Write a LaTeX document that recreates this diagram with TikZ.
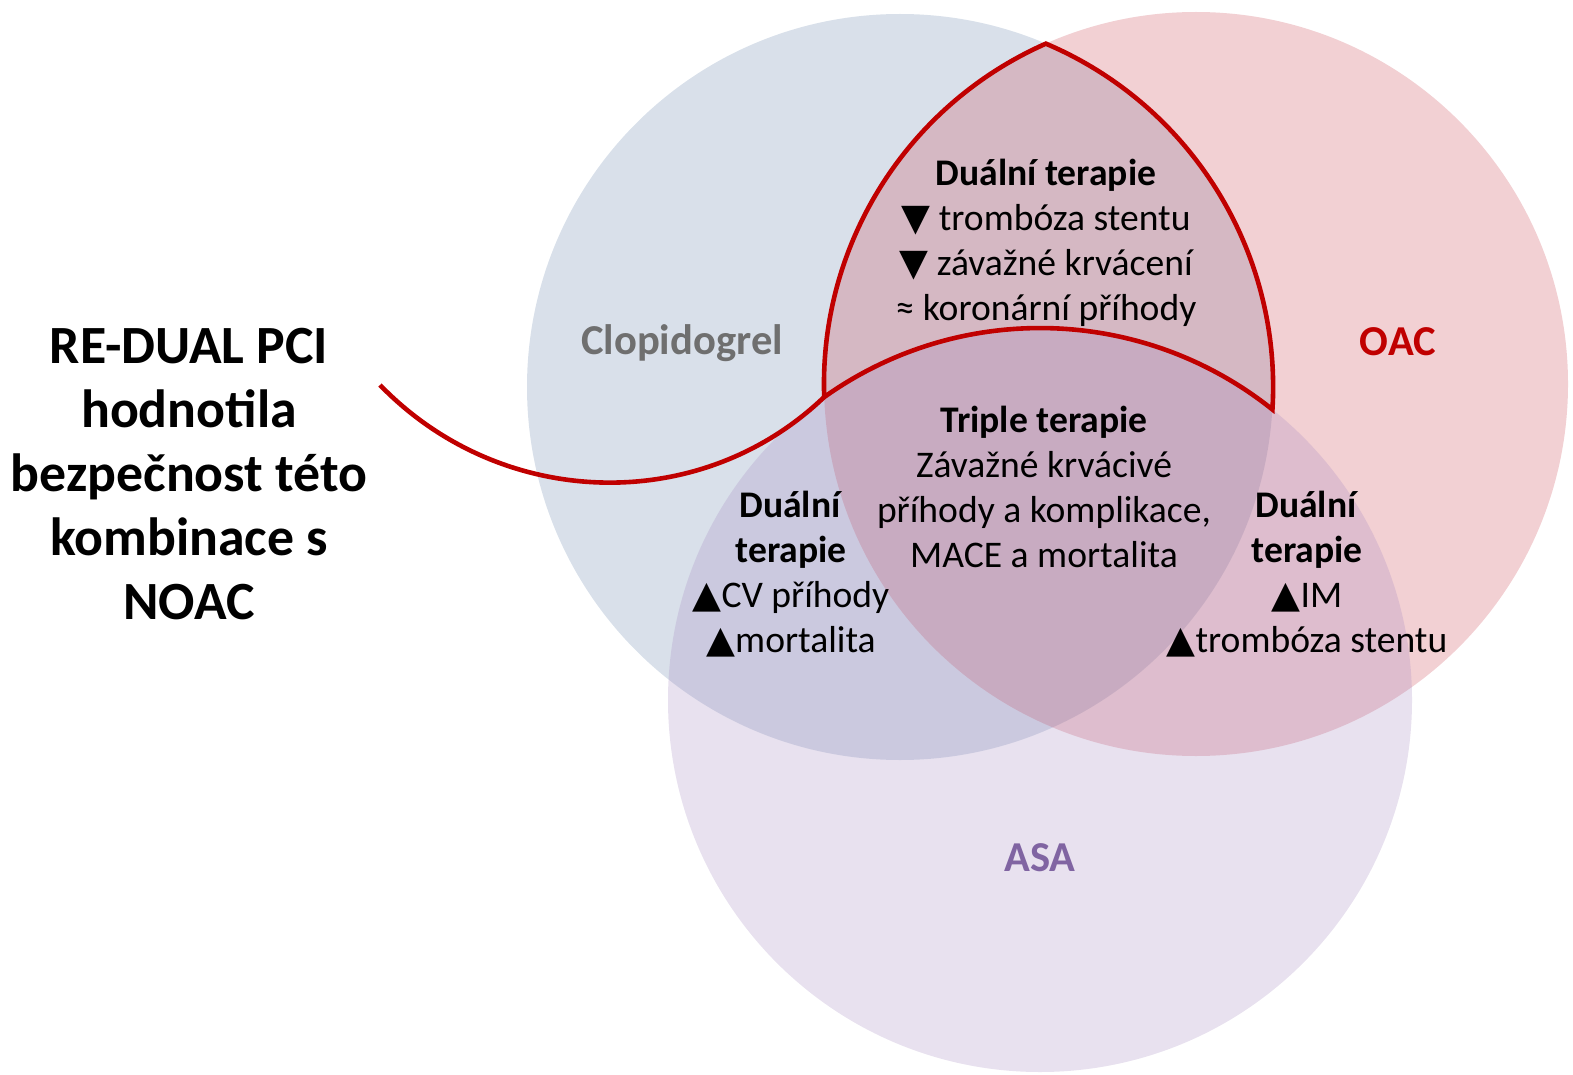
\documentclass[tikz,border=0pt]{standalone}
\usepackage{fontspec}
\setmainfont{Carlito}
\newfontfamily\symbolfont{DejaVu Sans}
\usepackage{xcolor}
\usepackage{tikz}
\usetikzlibrary{positioning}
\definecolor{clopiBlue}{RGB}{103,131,171}
\definecolor{oacRed}{RGB}{203,67,79}
\definecolor{asaViolet}{RGB}{163,135,191}
\definecolor{outlineRed}{HTML}{C00000}
\definecolor{labelGrey}{HTML}{6F6F6F}
\definecolor{labelViolet}{HTML}{8064A2}
\newcommand{\incr}{{\symbolfont\char"25B2}}
\newcommand{\decr}{{\symbolfont\char"25BC}}

\begin{document}
\begin{tikzpicture}[x=0.5pt, y=-0.5pt,
    setcircle/.style={fill opacity=0.25},
    setlabel/.style={font=\fontsize{21.3}{25}\selectfont\bfseries},
    infotext/.style={align=center, font=\fontsize{18.8}{22.4}\selectfont},
    redline/.style={draw=outlineRed, line width=2.3pt}]
                \useasboundingbox (0,0) rectangle (1573,1075);
                % the three sets
                \fill[setcircle, clopiBlue] (900,387) circle[radius=373];
                \fill[setcircle, oacRed] (1196,384) circle[radius=372];
                \fill[setcircle, asaViolet] (1040,700) circle[radius=372];
                \node[setlabel, text=labelGrey] (clopi) at (682,343) {Clopidogrel};
                \node[setlabel, text=outlineRed] (oac) at (1398,342) {OAC};
                \node[setlabel, text=labelViolet] (asa) at (1040,858) {ASA};
                % clopidogrel + OAC without ASA
                \coordinate (corner) at (824.2,397);
                \draw[redline] (corner) arc[start angle=178.0, end angle=246.2, radius=372]
                    arc[start angle=293.0, end angle=363.46, radius=373]
                    arc[start angle=308.65, end angle=234.54, radius=372] -- cycle;
                \node[infotext] (dualtop) at (1046,243) {\textbf{Duální terapie}\\\decr\ trombóza stentu\\\decr\ závažné krvácení\\≈ koronární příhody};
                \node[infotext] (triple) at (1044,487) {\textbf{Triple terapie}\\Závažné krvácivé\\příhody a komplikace,\\MACE a mortalita};
                \node[infotext] (dualleft) at (791,574) {\textbf{Duální}\\\textbf{terapie}\\\incr CV příhody\\\incr mortalita};
                \node[infotext] (dualright) at (1307,574) {\textbf{Duální}\\\textbf{terapie}\\\incr IM\\\incr trombóza stentu};
                \node[align=center, font=\fontsize{26.9}{32}\selectfont\bfseries] (study) at (189,474) {RE-DUAL PCI\\hodnotila\\bezpečnost této\\kombinace s\\NOAC};
                \coordinate (tail) at (380,385);
                \draw[redline] (tail) .. controls (501,510) and (700,516) .. (corner);
            \end{tikzpicture}
\end{document}
